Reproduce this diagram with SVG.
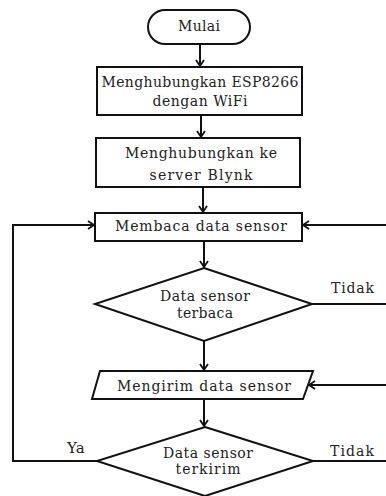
<svg xmlns="http://www.w3.org/2000/svg" width="386" height="496" viewBox="0 0 386 496">
<defs>
<marker id="arr" markerWidth="10" markerHeight="10" refX="7" refY="5" orient="auto" markerUnits="userSpaceOnUse">
<path d="M1,1 L7,5 L1,9" fill="none" stroke="#111" stroke-width="1.8"/>
</marker>
<style>
.shape{fill:#fff;stroke:#111;stroke-width:2}
.line{fill:none;stroke:#111;stroke-width:2}
.arrow{fill:none;stroke:#111;stroke-width:2;marker-end:url(#arr)}
text{font-family:"DejaVu Serif","Liberation Serif",serif;font-size:14px;fill:#222;text-anchor:middle}
.lbl{text-anchor:start}
</style>
</defs>
<rect width="386" height="496" fill="#fff"/>
<g id="connectors">
<line class="arrow" x1="200" y1="44" x2="200" y2="66"/>
<line class="arrow" x1="201" y1="115" x2="201" y2="137"/>
<line class="arrow" x1="203" y1="187" x2="203" y2="212"/>
<line class="arrow" x1="204" y1="241" x2="204" y2="267"/>
<line class="arrow" x1="204" y1="341" x2="204" y2="370"/>
<line class="arrow" x1="204" y1="399" x2="204" y2="426"/>
<polyline class="arrow" points="97,461 13,461 13,225 94,225"/>
<line class="arrow" x1="386" y1="225" x2="303" y2="225"/>
<line class="line" x1="312" y1="304" x2="386" y2="304"/>
<line class="arrow" x1="386" y1="385" x2="309" y2="385"/>
<line class="line" x1="313" y1="461" x2="386" y2="461"/>
<text class="lbl" x="331" y="293" textLength="43">Tidak</text>
<text class="lbl" x="330" y="456" textLength="44">Tidak</text>
<text class="lbl" x="67" y="453" style="font-size:15px">Ya</text>
</g>
<g id="mulai">
<rect class="shape" x="148" y="10" width="102" height="34" rx="17" ry="17"/>
<text x="199" y="31" textLength="42">Mulai</text>
</g>
<g id="esp">
<rect class="shape" x="97" y="67" width="205" height="48"/>
<text x="200" y="87" textLength="197">Menghubungkan ESP8266</text>
<text x="200" y="106" textLength="95">dengan WiFi</text>
</g>
<g id="blynk">
<rect class="shape" x="96" y="138" width="204" height="49"/>
<text x="201" y="158" textLength="152">Menghubungkan ke</text>
<text x="201" y="180" textLength="103">server Blynk</text>
</g>
<g id="membaca">
<rect class="shape" x="95" y="213" width="207" height="28"/>
<text x="201" y="231" textLength="172">Membaca data sensor</text>
</g>
<g id="terbaca">
<polygon class="shape" points="204,268 312,304 204,341 95,304"/>
<text x="205" y="301" textLength="90">Data sensor</text>
<text x="205" y="318" textLength="56">terbaca</text>
</g>
<g id="mengirim">
<polygon class="shape" points="100,371 313,371 303,399 92,399"/>
<text x="204" y="391" textLength="174">Mengirim data sensor</text>
</g>
<g id="terkirim">
<polygon class="shape" points="205,427 313,461 205,496 97,461"/>
<text x="208" y="458" textLength="90">Data sensor</text>
<text x="208" y="474" textLength="65">terkirim</text>
</g>
</svg>
